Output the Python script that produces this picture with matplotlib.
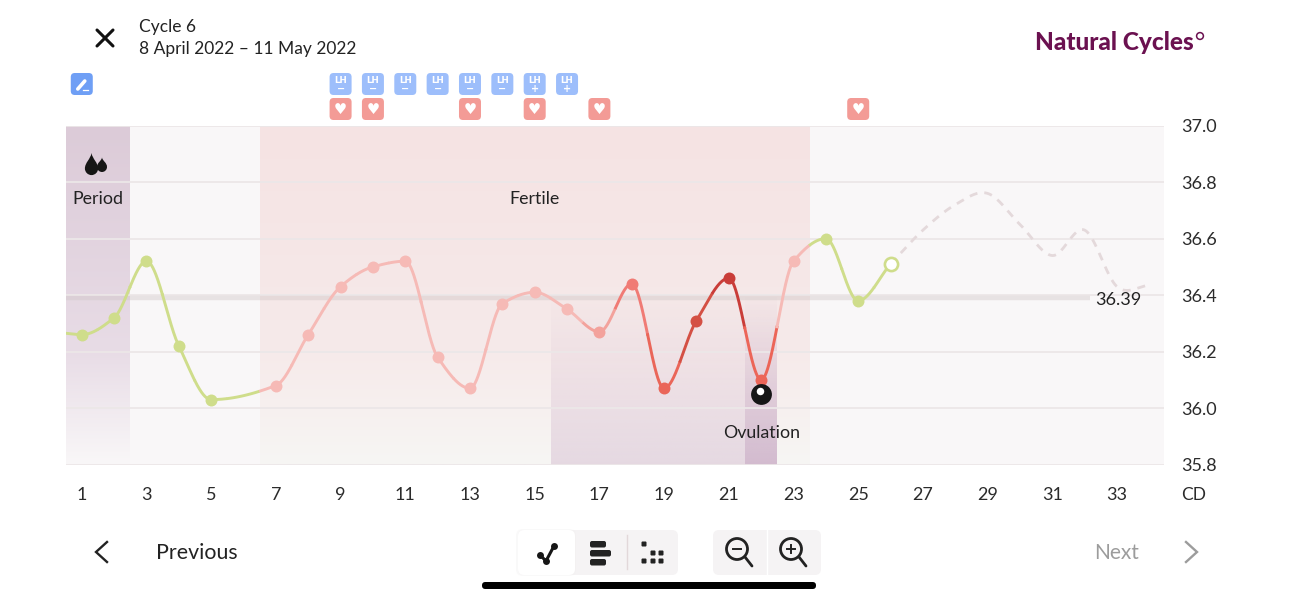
import numpy as np
import matplotlib
matplotlib.use('Agg')
import matplotlib.pyplot as plt
from matplotlib.colors import to_rgb
from matplotlib.patches import FancyBboxPatch, Circle, PathPatch
from matplotlib.path import Path

plt.rcParams['font.family'] = ['Lato', 'DejaVu Sans']

# data
temp_days = [1, 2, 3, 4, 5, 7, 8, 9, 10, 11, 12, 13, 14, 15, 16, 17, 18, 19, 20, 21, 22, 23, 24, 25, 26]
temps = [36.26, 36.32, 36.52, 36.22, 36.03, 36.08, 36.26, 36.43, 36.50, 36.52, 36.18, 36.07, 36.37,
         36.41, 36.35, 36.27, 36.44, 36.07, 36.31, 36.46, 36.10, 36.52, 36.60, 36.38, 36.51]
lead_in = (0.5, 36.265)
pred_days = [26, 27, 28, 29, 30, 31, 32, 33, 34]
pred_temps = [36.51, 36.63, 36.72, 36.76, 36.65, 36.54, 36.63, 36.43, 36.435]
avg_temp = 36.39
avg_end = 32.16
lh_days = [9, 10, 11, 12, 13, 14, 15, 16]
lh_signs = ['−', '−', '−', '−', '−', '−', '+', '+']
sex_days = [9, 10, 13, 15, 17, 25]
test_day = 1
x_ticks = list(range(1, 34, 2))
y_ticks = [35.8, 36.0, 36.2, 36.4, 36.6, 36.8, 37.0]

GREEN = '#cfdd8b'
PALE = '#f6bab6'
day_colors = {17: '#f3a29c', 18: '#f07b75', 19: '#ea6659', 20: '#d45044', 21: '#c93d39', 22: '#ec6558'}
for d in range(0, 7):
    day_colors[d] = GREEN
for d in list(range(7, 17)) + [23]:
    day_colors[d] = PALE
for d in range(24, 27):
    day_colors[d] = GREEN


def spline(xs, ys, smooth_ends=True):
    # cubic hermite through the read points, only used to draw the curve
    xs, ys = np.array(xs, float), np.array(ys, float)
    sec = np.diff(ys) / np.diff(xs)
    m = np.gradient(ys, xs)
    if smooth_ends:
        # flat at turning points, harmonic mean of the slopes elsewhere
        for i in range(1, len(xs) - 1):
            if sec[i - 1] * sec[i] <= 0:
                m[i] = 0
            else:
                m[i] = 2 * sec[i - 1] * sec[i] / (sec[i - 1] + sec[i])
    else:
        m[1:-1] = (ys[2:] - ys[:-2]) / (xs[2:] - xs[:-2])
    out_x, out_y = [], []
    for i in range(len(xs) - 1):
        h = xs[i + 1] - xs[i]
        t = np.linspace(0, 1, 200)
        y = ((2 * t**3 - 3 * t**2 + 1) * ys[i] + (t**3 - 2 * t**2 + t) * h * m[i]
             + (-2 * t**3 + 3 * t**2) * ys[i + 1] + (t**3 - t**2) * h * m[i + 1])
        out_x.append(xs[i] + t * h)
        out_y.append(y)
    return np.concatenate(out_x), np.concatenate(out_y)


def gradient(ax, x0, x1, stops, z=0):
    # vertical gradient band, stops are (temp, color, alpha)
    yy = np.linspace(37.0, 35.8, 200)
    st = sorted(stops)
    vals = [s[0] for s in st]
    img = np.zeros((200, 1, 4))
    for c in range(3):
        img[:, 0, c] = np.interp(yy, vals, [to_rgb(s[1])[c] for s in st])
    img[:, 0, 3] = np.interp(yy, vals, [s[2] for s in st])
    ax.imshow(img, extent=(x0, x1, 35.8, 37.0), aspect='auto', zorder=z, interpolation='bilinear')


fig = plt.figure(figsize=(12.98, 6.0), dpi=100, facecolor='white')
ax = fig.add_axes([65.6 / 1298, 1 - 464.6 / 600, 1098 / 1298, 339 / 600])
ax.set_facecolor('#f9f7f8')

# phase bands
gradient(ax, 0.5, 2.47, [(37.0, '#dccbd8', 1), (36.2, '#e8dce6', 1), (35.8, '#f9f7f8', 1)])
gradient(ax, 6.5, 23.47, [(37.0, '#f5e3e3', 1), (36.2, '#f6eaea', 1), (35.8, '#f7f6f4', 1)], z=0.1)
gradient(ax, 15.5, 22.48, [(36.4, '#cdaec8', 0), (35.8, '#cdaec8', 0.40)], z=0.2)
gradient(ax, 21.5, 22.48, [(36.4, '#b890b4', 0), (35.8, '#b890b4', 0.40)], z=0.3)

ax.set_xlim(0.5, 34.44)
ax.set_ylim(35.8, 37.0)
ax.set_xticks(x_ticks)
ax.set_yticks(y_ticks)
ax.set_yticklabels(['%.1f' % v for v in y_ticks])
ax.yaxis.tick_right()
ax.tick_params(axis='both', length=0, labelsize=13, labelcolor='#2b2b2b')
ax.tick_params(axis='x', pad=16)
ax.tick_params(axis='y', pad=13)
ax.grid(axis='y', color='#ece7e8', lw=1.3)
ax.grid(axis='x', visible=False)
for s in ax.spines.values():
    s.set_visible(False)

# cover line
ax.plot([0.5, avg_end], [avg_temp, avg_temp], color='#cfc6c6', alpha=0.42, lw=3.2, solid_capstyle='butt', zorder=1.8)
ax.text(avg_end + 0.15, avg_temp - 0.006, '%.2f' % avg_temp, fontsize=13, color='#222222', va='center')

# prediction
px, py = spline(pred_days, pred_temps, smooth_ends=False)
ax.plot(px, py, color='#e4d9db', lw=2, dashes=(2.9, 2.5), zorder=2)

# temperature curve, colour changes at half days
cx, cy = spline([lead_in[0]] + temp_days, [lead_in[1]] + temps)
for d in sorted(day_colors):
    mask = (cx >= d - 0.52) & (cx <= d + 0.5)
    if mask.any():
        ax.plot(cx[mask], cy[mask], color=day_colors[d], lw=2.1, solid_capstyle='butt', zorder=3)
for d, t in zip(temp_days[:-1], temps[:-1]):
    ax.plot(d, t, 'o', color=day_colors[d], ms=8.6, mew=0, zorder=4)
ax.plot(temp_days[-1], temps[-1], 'o', mfc='white', mec=GREEN, mew=1.9, ms=9.5, zorder=4)

# ovulation marker
ax.plot(22, 36.05, 'o', color='#161616', ms=15, mew=0, zorder=5)
ax.plot(21.96, 36.06, 'o', color='white', ms=5.4, mew=0, zorder=6)

ax.text(1.5, 36.74, 'Period', fontsize=12.8, color='#222222', ha='center', va='center', zorder=6)
ax.text(15, 36.74, 'Fertile', fontsize=12.8, color='#222222', ha='center', va='center', zorder=6)
ax.text(22, 35.912, 'Ovulation', fontsize=12.8, color='#222222', ha='center', va='center', zorder=6)

# overlay in screen pixels for the app furniture
ui = fig.add_axes([0, 0, 1, 1], facecolor='none')
ui.set_xlim(0, 1298)
ui.set_ylim(600, 0)
ui.axis('off')


def day_px(d):
    return ax.transData.transform((d, 36.0))[0]


def box(x0, y0, w, h, color, r=4, z=2, **kw):
    ui.add_patch(FancyBboxPatch((x0 + r, y0 + r), w - 2 * r, h - 2 * r, boxstyle='round,pad=%s,rounding_size=%s' % (r, r),
                                fc=color, ec='none', zorder=z, **kw))


def drop(cx_, cy_, r, tip):
    k = 0.552 * r
    verts = [(cx_, cy_ - tip), (cx_ + 0.15 * r, cy_ - 0.6 * tip), (cx_ + r, cy_ - 0.9 * r), (cx_ + r, cy_),
             (cx_ + r, cy_ + k), (cx_ + k, cy_ + r), (cx_, cy_ + r),
             (cx_ - k, cy_ + r), (cx_ - r, cy_ + k), (cx_ - r, cy_),
             (cx_ - r, cy_ - 0.9 * r), (cx_ - 0.15 * r, cy_ - 0.6 * tip), (cx_, cy_ - tip)]
    codes = [Path.MOVETO] + [Path.CURVE4] * 12
    ui.add_patch(PathPatch(Path(verts, codes), fc='#161616', ec='none'))


drop(91.5, 168.5, 6.6, 15.5)
drop(102, 167, 5, 9.5)

# test and sex icons above the chart
xp = day_px(test_day)
box(xp - 11, 73, 22, 22, '#6f9ff5')
ui.plot([xp - 4, xp + 3], [89, 81], color='white', lw=2.6, solid_capstyle='round', zorder=3)
ui.plot([xp + 1, xp + 6], [90, 90], color='white', lw=0.9, zorder=3)
for d, sign in zip(lh_days, lh_signs):
    xp = day_px(d)
    box(xp - 11, 73, 22, 22, '#9dbefb')
    ui.text(xp, 80.5, 'LH', color='white', fontsize=6.3, fontweight='bold', ha='center', va='center', zorder=3,
            family='DejaVu Sans')
    ui.text(xp, 88.5, sign, color='white', fontsize=7, fontweight='bold', ha='center', va='center', zorder=3,
            family='DejaVu Sans')
for d in sex_days:
    xp = day_px(d)
    box(xp - 11, 98, 22, 22, '#f39b96')
    ui.text(xp, 109, '♥', color='white', fontsize=10.5, ha='center', va='center', zorder=3, family='DejaVu Sans')

# header
ui.plot([97, 113], [30, 46], color='#111111', lw=2.2, solid_capstyle='round')
ui.plot([97, 113], [46, 30], color='#111111', lw=2.2, solid_capstyle='round')
ui.text(139, 27, 'Cycle 6', fontsize=12.5, color='#222222', va='center')
ui.text(139, 49, '8 April 2022 – 11 May 2022', fontsize=12.5, color='#222222', va='center')
ui.text(1035, 42, 'Natural Cycles', fontsize=17.6, fontweight='black', color='#6b1150', va='center')
ui.add_patch(Circle((1200, 36), 3.4, fc='none', ec='#6b1150', lw=1.1))
ui.text(1194, 494.5, 'CD', fontsize=12.5, color='#2b2b2b', ha='center', va='center')

# bottom bar
ui.plot([107, 96, 107], [542, 552, 562], color='#222222', lw=1.7, solid_joinstyle='miter')
ui.text(156, 553, 'Previous', fontsize=15.4, color='#222222', va='center')
ui.text(1094, 553, 'Next', fontsize=15, color='#9c9c9c', va='center')
ui.plot([1186, 1197, 1186], [542, 552, 562], color='#9c9c9c', lw=1.7, solid_joinstyle='miter')

box(518, 530, 160, 45, '#f5f3f4', r=6)
box(516, 529, 60, 47, '#f0eeee', r=7, z=2.1, alpha=0.35)
box(518, 530, 57, 45, 'white', r=6, z=2.2)
ui.plot([540, 546, 554], [555, 561, 546], color='#161616', lw=2.2, zorder=3)
ui.plot([540, 546, 554], [555, 561, 546], 'o', color='#161616', ms=5, mew=0, zorder=3)
for y0, x1 in zip([541, 550, 559], [606, 611, 606]):
    box(590, y0, x1 - 590, 6.5, '#222222', r=2, z=3)
ui.plot([627, 627], [535, 569], color='#e2d8da', lw=1, zorder=3)
for dx, dy in [(644, 544), (653, 553), (661, 553), (644, 561), (653, 561), (661, 561)]:
    box(dx - 2.5, dy - 2.5, 5, 5, '#222222', r=1, z=3)

box(713, 530, 108, 45, '#f5f3f4', r=6)
ui.plot([767, 767], [530, 575], color='white', lw=1, zorder=3)
for cxz, symbol in [(737, '-'), (791, '+')]:
    ui.add_patch(Circle((cxz, 549), 10.5, fc='none', ec='#222222', lw=2, zorder=3))
    ui.plot([cxz + 8, cxz + 15], [557, 566], color='#222222', lw=2, zorder=3, solid_capstyle='round')
    ui.plot([cxz - 4, cxz + 4], [549, 549], color='#222222', lw=1.4, zorder=3)
    if symbol == '+':
        ui.plot([cxz, cxz], [545, 553], color='#222222', lw=1.4, zorder=3)

box(482, 582, 334, 7, 'black', r=3.4)

fig.savefig('out.png', dpi=100, facecolor='white')
